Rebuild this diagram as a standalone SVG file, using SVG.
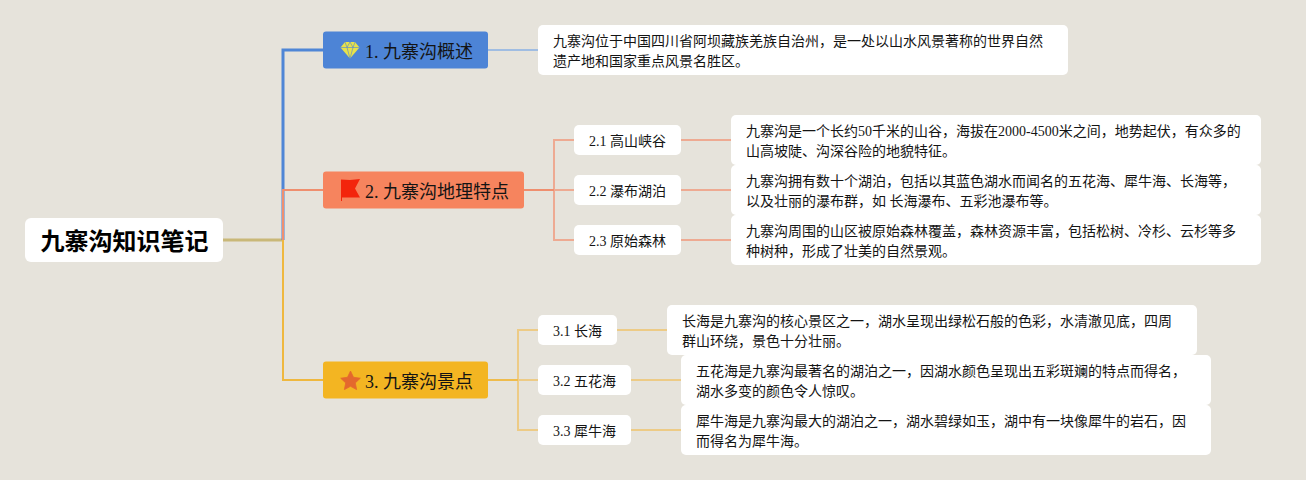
<svg xmlns="http://www.w3.org/2000/svg" width="1306" height="480" viewBox="0 0 1306 480">
<style>
text{font-family:"Liberation Serif","Noto Sans CJK SC",serif;fill:#141414}
.root{font-family:"Liberation Sans","Noto Sans CJK SC",sans-serif;font-size:24px;font-weight:700;fill:#000}
.branch{font-size:18px}
.sub{font-size:14px}
.note{font-size:14px}
.card{fill:#fff}
.c{fill:none;stroke-width:2}
.blue{stroke:#a0bde2}
.red{stroke:#eeaa92}
.yel{stroke:#edcb86}
</style>
<rect width="1306" height="480" fill="#e6e3db"/>
<g id="connectors" fill="none">
<path d="M223 240H283" stroke="#c9b878" stroke-width="3"/>
<path d="M283 240V50H323" stroke="#4f86d6" stroke-width="3"/>
<path d="M283 240V190H323" stroke="#ef8f6f" stroke-width="2"/>
<path d="M283 240V380H323" stroke="#efb83f" stroke-width="2"/>
<path class="c blue" d="M488 50H538"/>
<path class="c red" d="M554 190V140H574M554 190V240H574M554 190H574"/>
<path d="M524 190H554" stroke="#ef8f6f" stroke-width="2"/>
<path class="c red" d="M681 140H731M681 190H731M681 240H731"/>
<path class="c yel" d="M518 380V330H538M518 380V430H538M518 380H538"/>
<path d="M488 380H518" stroke="#efbc4c" stroke-width="2"/>
<path class="c yel" d="M617 330H667M631 380H681M631 430H681"/>
</g>
<g id="root"><rect class="card" x="25" y="218" width="198" height="44" rx="6"/><text class="root" x="40.500" y="250">九寨沟知识笔记</text></g>
<g id="b1"><rect x="323" y="31.500" width="165" height="37" rx="3" fill="#4d84d6"/>
<path d="M345 42H355L359.500 47.500L350 58.500L340.500 47.500Z" fill="#e8e24a"/><path d="M345 42L347 47.500L350 58.500L353 47.500L355 42M340.500 47.500H359.500M347 47.500L350 42L353 47.500" fill="none" stroke="#4d84d6" stroke-width=".6"/>
<text class="branch" x="365" y="58">1. 九寨沟概述</text></g>
<g id="b2"><rect x="323" y="171.500" width="201" height="37" rx="3" fill="#f6845e"/>
<path d="M341 179.500L350 180L360 179L355 188.500L360 197.500H342V201H341Z" fill="#f3250c"/>
<text class="branch" x="365" y="198">2. 九寨沟地理特点</text></g>
<g id="b3"><rect x="323" y="361.500" width="165" height="37" rx="3" fill="#f3b522"/>
<path d="M350.500 371L353.500 377.300L360.300 378.200L355.300 382.900L356.600 389.600L350.500 386.300L344.400 389.600L345.700 382.900L340.700 378.200L347.500 377.300Z" fill="#e4682d" stroke="#e4682d" stroke-width=".8" stroke-linejoin="round"/>
<text class="branch" x="365" y="388">3. 九寨沟景点</text></g>
<g id="d1"><rect class="card" x="538" y="25" width="530" height="50" rx="5"/><text class="note" x="553" y="46">九寨沟位于中国四川省阿坝藏族羌族自治州，是一处以山水风景著称的世界自然</text><text class="note" x="553" y="66">遗产地和国家重点风景名胜区。</text></g>
<g id="s21"><rect class="card" x="574" y="125" width="107" height="30" rx="5"/><text class="sub" x="589" y="146">2.1 高山峡谷</text></g>
<g id="d21"><rect class="card" x="731" y="115" width="530" height="50" rx="5"/><text class="note" x="746" y="136">九寨沟是一个长约50千米的山谷，海拔在2000-4500米之间，地势起伏，有众多的</text><text class="note" x="746" y="156">山高坡陡、沟深谷险的地貌特征。</text></g>
<g id="s22"><rect class="card" x="574" y="175" width="107" height="30" rx="5"/><text class="sub" x="589" y="196">2.2 瀑布湖泊</text></g>
<g id="d22"><rect class="card" x="731" y="165" width="530" height="50" rx="5"/><text class="note" x="746" y="186">九寨沟拥有数十个湖泊，包括以其蓝色湖水而闻名的五花海、犀牛海、长海等，</text><text class="note" x="746" y="206">以及壮丽的瀑布群，如 长海瀑布、五彩池瀑布等。</text></g>
<g id="s23"><rect class="card" x="574" y="225" width="107" height="30" rx="5"/><text class="sub" x="589" y="246">2.3 原始森林</text></g>
<g id="d23"><rect class="card" x="731" y="215" width="530" height="50" rx="5"/><text class="note" x="746" y="236">九寨沟周围的山区被原始森林覆盖，森林资源丰富，包括松树、冷杉、云杉等多</text><text class="note" x="746" y="256">种树种，形成了壮美的自然景观。</text></g>
<g id="s31"><rect class="card" x="538" y="315" width="79" height="30" rx="5"/><text class="sub" x="553" y="336">3.1 长海</text></g>
<g id="d31"><rect class="card" x="667" y="305" width="530" height="50" rx="5"/><text class="note" x="682" y="326">长海是九寨沟的核心景区之一，湖水呈现出绿松石般的色彩，水清澈见底，四周</text><text class="note" x="682" y="346">群山环绕，景色十分壮丽。</text></g>
<g id="s32"><rect class="card" x="538" y="365" width="93" height="30" rx="5"/><text class="sub" x="553" y="386">3.2 五花海</text></g>
<g id="d32"><rect class="card" x="681" y="355" width="530" height="50" rx="5"/><text class="note" x="696" y="376">五花海是九寨沟最著名的湖泊之一，因湖水颜色呈现出五彩斑斓的特点而得名，</text><text class="note" x="696" y="396">湖水多变的颜色令人惊叹。</text></g>
<g id="s33"><rect class="card" x="538" y="415" width="93" height="30" rx="5"/><text class="sub" x="553" y="436">3.3 犀牛海</text></g>
<g id="d33"><rect class="card" x="681" y="405" width="530" height="50" rx="5"/><text class="note" x="696" y="426">犀牛海是九寨沟最大的湖泊之一，湖水碧绿如玉，湖中有一块像犀牛的岩石，因</text><text class="note" x="696" y="446">而得名为犀牛海。</text></g>
</svg>
